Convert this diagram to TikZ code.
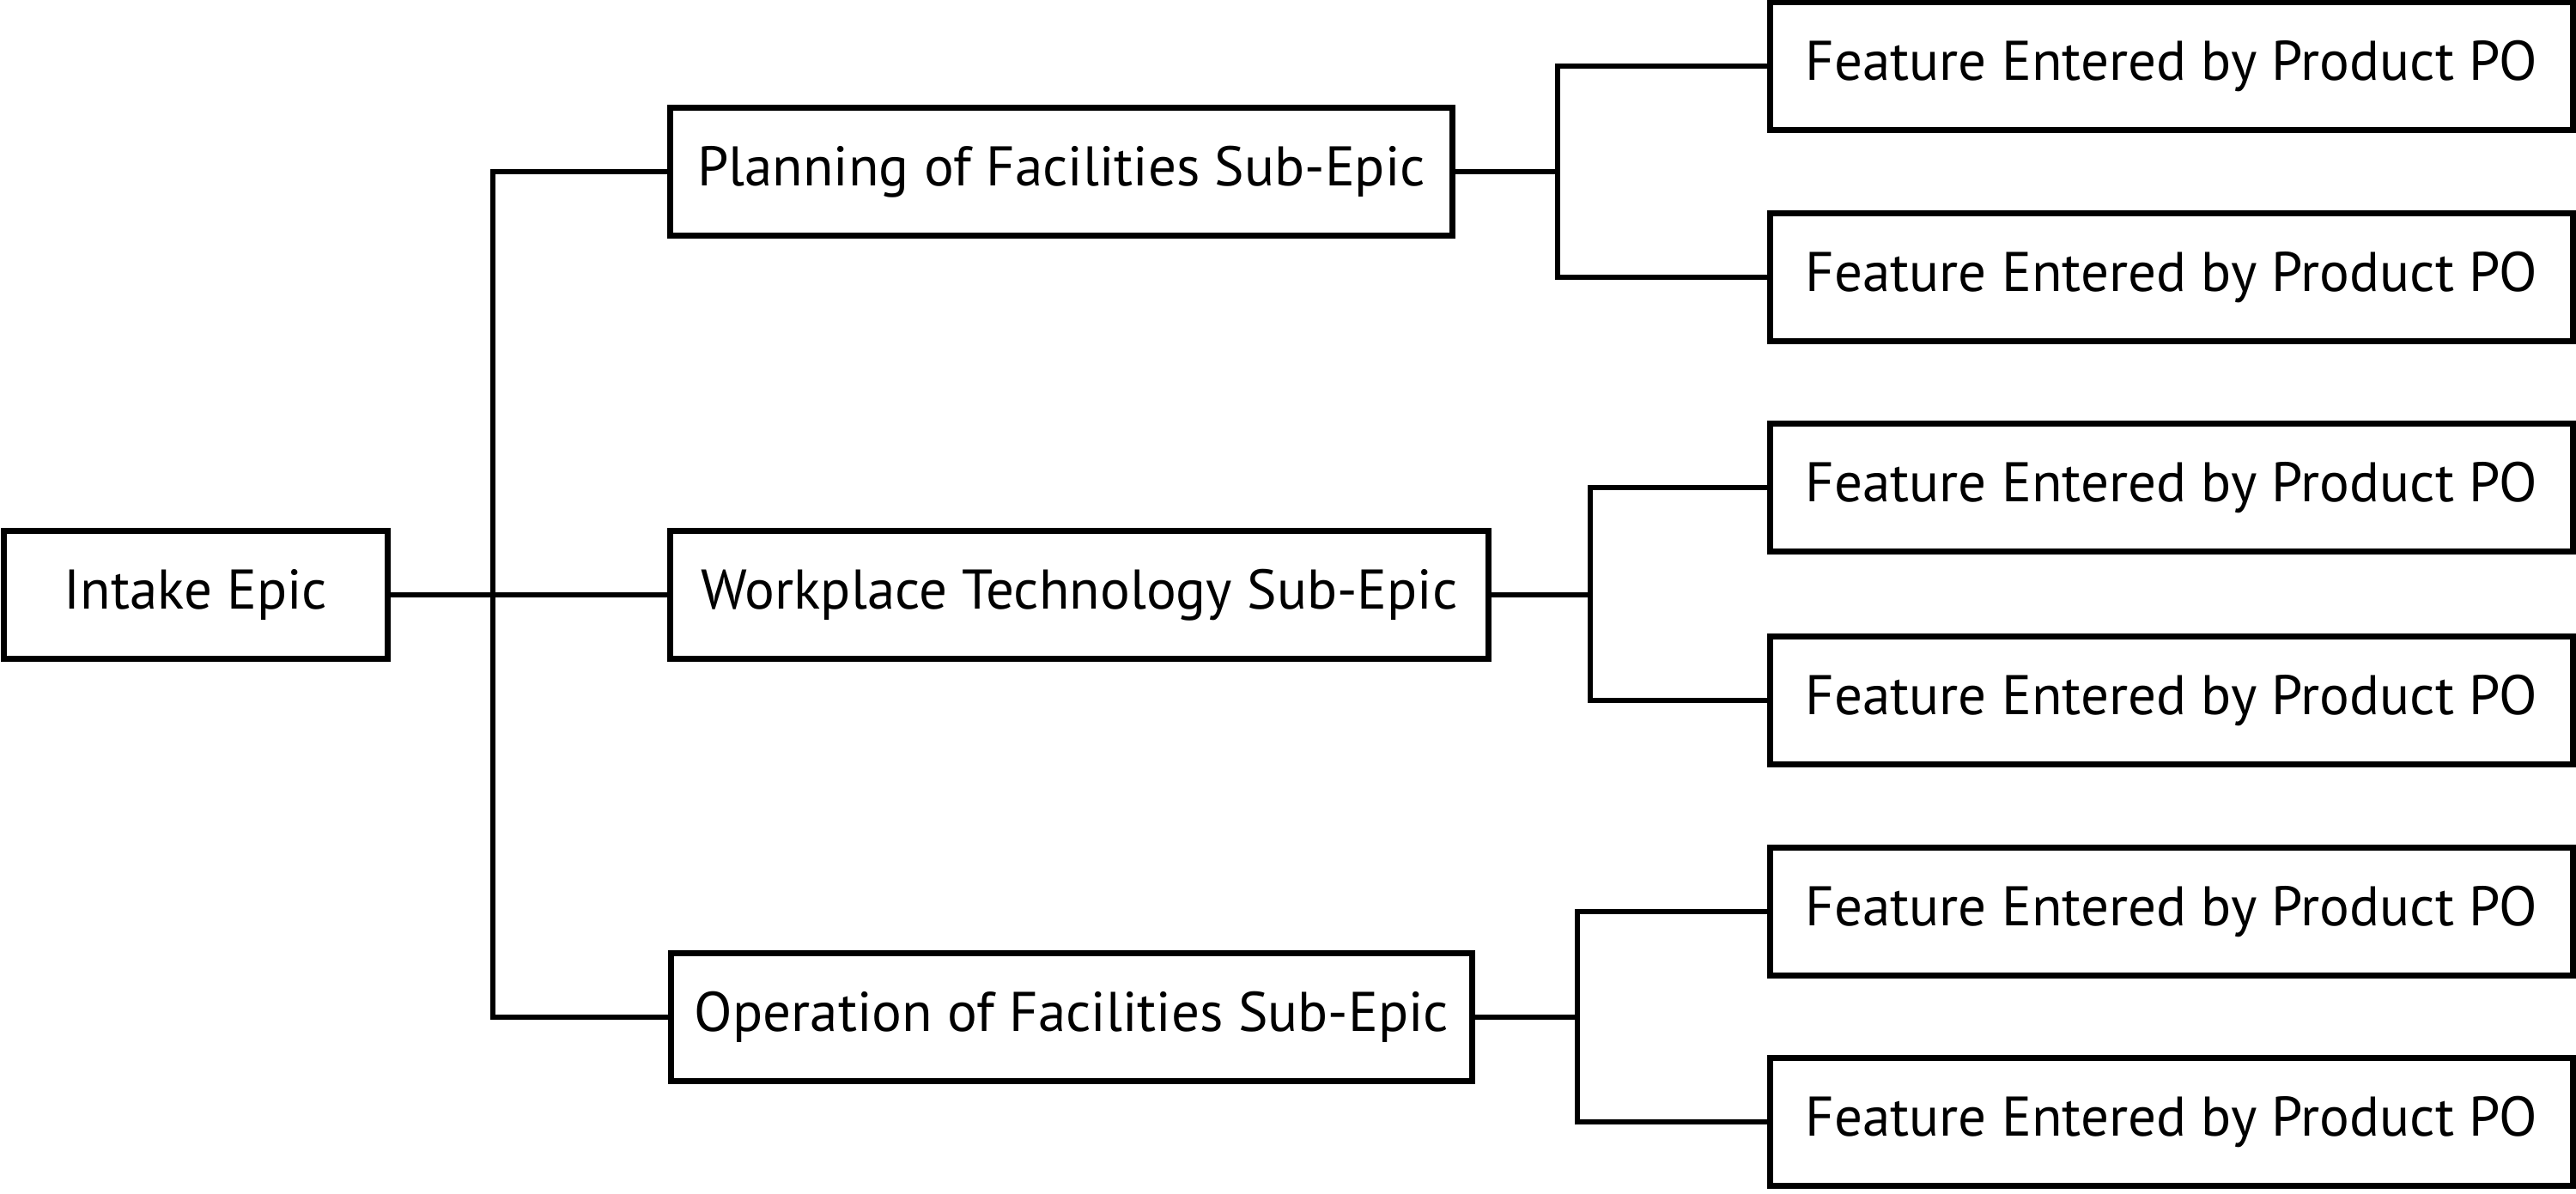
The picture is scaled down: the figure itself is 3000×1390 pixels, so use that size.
\documentclass[tikz,border=0pt]{standalone}
\usepackage{fontspec}
\setmainfont{PT Sans}
\usepackage{tikz}
\usetikzlibrary{positioning}

\begin{document}
\begin{tikzpicture}[
    x=0.01cm, y=-0.01cm,
    box/.style={rectangle, draw, line width=2pt, outer sep=0pt, minimum height=1.48cm, align=center, font=\fontsize{18.5}{22}\selectfont},
    epicbox/.style={box, minimum width=4.47cm},
    subbox/.style={box},
    featbox/.style={box, minimum width=9.34cm},
    link/.style={line width=1.6pt}
]
    \useasboundingbox (0,0) rectangle (3000,1390);

    \node[epicbox] (intake) at (228,693) {Intake Epic};

    \node[subbox, minimum width=9.10cm] (planning) at (1236,200) {Planning of Facilities Sub-Epic};
    \node[subbox, minimum width=9.52cm] (workplace) at (1257,693) {Workplace Technology Sub-Epic};
    \node[subbox, minimum width=9.33cm] (operation) at (1248,1185) {Operation of Facilities Sub-Epic};

    \node[featbox] (feat1) at (2529,77) {Feature Entered by Product PO};
    \node[featbox] (feat2) at (2529,323) {Feature Entered by Product PO};
    \node[featbox] (feat3) at (2529,568) {Feature Entered by Product PO};
    \node[featbox] (feat4) at (2529,816) {Feature Entered by Product PO};
    \node[featbox] (feat5) at (2529,1062) {Feature Entered by Product PO};
    \node[featbox] (feat6) at (2529,1307) {Feature Entered by Product PO};

    \draw[link] (intake) -- (workplace);
    \draw[link] (planning.west) -- ++(-207,0) |- (operation.west);

    \draw[link] (planning.east) -- ++(123,0);
    \draw[link] (feat1.west) -- ++(-248,0) |- (feat2.west);
    \draw[link] (workplace.east) -- ++(119,0);
    \draw[link] (feat3.west) -- ++(-210,0) |- (feat4.west);
    \draw[link] (operation.east) -- ++(123,0);
    \draw[link] (feat5.west) -- ++(-225,0) |- (feat6.west);
\end{tikzpicture}
\end{document}
